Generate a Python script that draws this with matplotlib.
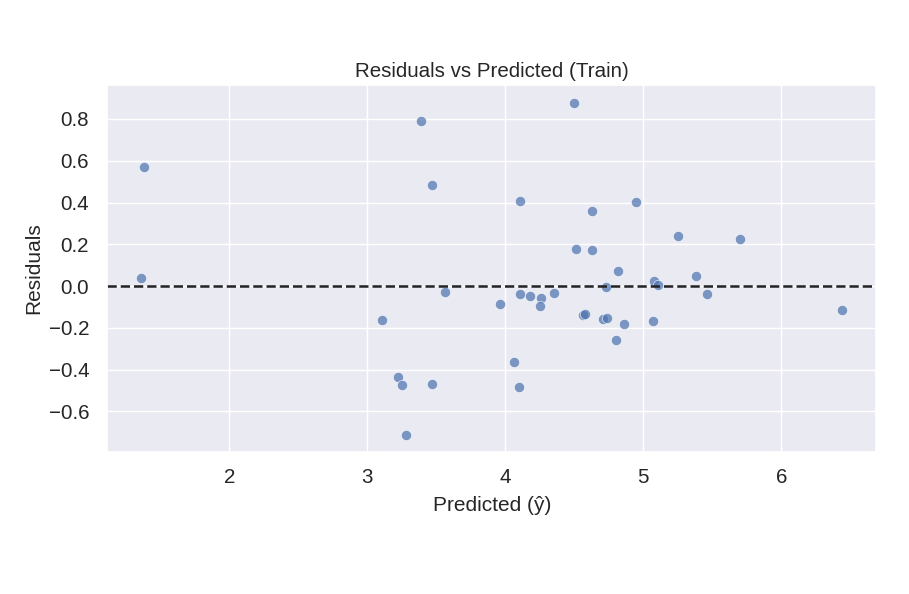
import numpy as np
import matplotlib
matplotlib.use("Agg")
import matplotlib.pyplot as plt
import seaborn as sns

# predicted values and residuals
predicted = [1.38, 1.36, 3.39, 3.47, 3.56, 3.11, 3.22, 3.25, 3.47, 3.28,
             3.96, 4.06, 4.10, 4.11, 4.11, 4.18, 4.26, 4.25, 4.35, 4.50,
             4.51, 4.56, 4.58, 4.63, 4.63, 4.71, 4.73, 4.74, 4.80, 4.82,
             4.86, 4.95, 5.07, 5.08, 5.11, 5.25, 5.38, 5.46, 5.70, 6.44]
residuals = [0.569, 0.037, 0.792, 0.484, -0.027, -0.163, -0.434, -0.474, -0.469, -0.714,
             -0.086, -0.364, -0.484, 0.409, -0.038, -0.048, -0.056, -0.094, -0.034, 0.877,
             0.176, -0.137, -0.133, 0.359, 0.171, -0.156, -0.003, -0.152, -0.257, 0.072,
             -0.182, 0.404, -0.168, 0.024, 0.003, 0.240, 0.046, -0.038, 0.225, -0.117]


def plot_residuals(y_pred, resid):
    sns.set_theme(style="darkgrid")
    plt.rcParams['font.family'] = ['Liberation Sans', 'DejaVu Sans']
    fig, ax = plt.subplots(figsize=(9.09, 5.94), dpi=100)
    fig.subplots_adjust(left=0.118, right=0.964, top=0.857, bottom=0.239)

    sns.scatterplot(x=y_pred, y=resid, alpha=0.7, s=55, ax=ax)
    ax.axhline(0, color="#222222", linestyle="--", linewidth=1.8)

    ax.set_xlim(1.116, 6.688)
    ax.set_ylim(-0.795, 0.963)
    ax.set_xticks([2, 3, 4, 5, 6])
    ax.set_yticks([-0.6, -0.4, -0.2, 0.0, 0.2, 0.4, 0.6, 0.8])
    ax.tick_params(axis="x", labelsize=14.8, pad=5.5)
    ax.tick_params(axis="y", labelsize=14.8, pad=7)
    ax.set_title("Residuals vs Predicted (Train)", fontsize=14.8, pad=5.5)
    ax.set_xlabel("Predicted (ŷ)", fontsize=15, labelpad=6.5)
    ax.set_ylabel("Residuals", fontsize=15, labelpad=4)

    fig.savefig("out.png", dpi=100)


if __name__ == "__main__":
    plot_residuals(predicted, residuals)
